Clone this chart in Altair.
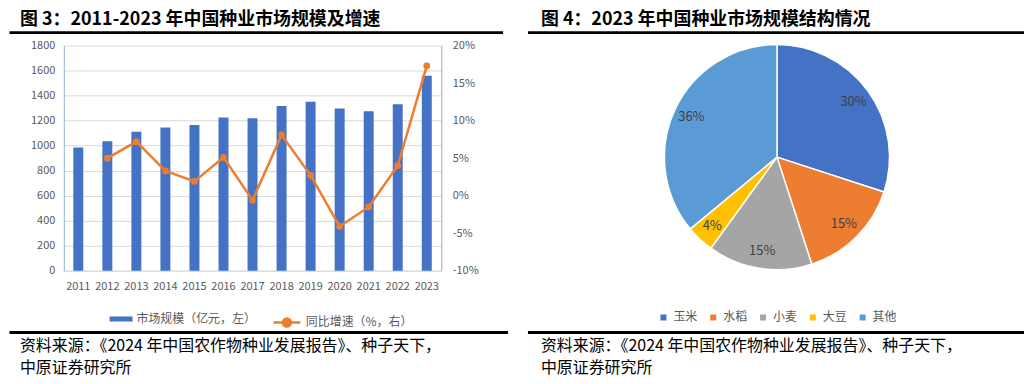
import altair as alt
import pandas as pd

# ---------------- data ----------------
years = ["2011", "2012", "2013", "2014", "2015", "2016", "2017",
         "2018", "2019", "2020", "2021", "2022", "2023"]
market_size = [985, 1035, 1110, 1144, 1165, 1224, 1218, 1317, 1351, 1296, 1274, 1330, 1558]
growth_pct = [None, 5.0, 7.2, 3.3, 1.9, 5.1, -0.6, 8.1, 2.7, -4.1, -1.5, 4.0, 17.3]
series_names = ["市场规模（亿元，左）", "同比增速（%，右）"]

crops = ["玉米", "水稻", "小麦", "大豆", "其他"]
crop_share = [30, 15, 15, 4, 36]
crop_colors = ["#4472C4", "#ED7D31", "#A5A5A5", "#FFC000", "#5B9BD5"]

left_title = "图 3：2011-2023 年中国种业市场规模及增速"
right_title = "图 4：2023 年中国种业市场规模结构情况"
source_line1 = "资料来源：《2024 年中国农作物种业发展报告》、种子天下，"
source_line2 = "中原证券研究所"

# ---------------- layout helpers ----------------
FONT = "Noto Sans CJK SC"
OX, OY = 64, 45  # absolute position of the left plot origin


def X(a):
    return a - OX


def Y(a):
    return a - OY


one = alt.Data(values=[{}])


def txt(s, x, y, size, bold=False, color="black"):
    return alt.Chart(one).mark_text(
        text=s, align="left", baseline="middle", fontSize=size,
        fontWeight="bold" if bold else "normal", font=FONT, color=color
    ).encode(x=alt.value(X(x)), y=alt.value(Y(y)))


def rule(x1, x2, y):
    return alt.Chart(one).mark_rule(color="black", strokeWidth=3).encode(
        x=alt.value(X(x1)), x2=alt.value(X(x2)), y=alt.value(Y(y))
    )


# ---------------- left chart ----------------
df = pd.DataFrame({
    "年份": years,
    "市场规模": market_size,
    "同比增速": growth_pct,
    "s1": series_names[0],
    "s2": series_names[1],
})

x_enc = alt.X(
    "年份:N", sort=years,
    scale=alt.Scale(paddingInner=0, paddingOuter=0),
    axis=alt.Axis(title=None, labelAngle=0, ticks=False, domainColor="#D9D9D9",
                  labelColor="#595959", labelFontSize=11, labelPadding=10,
                  labelFont=FONT),
)

bars = alt.Chart(df).mark_bar(size=10).encode(
    x=x_enc,
    y=alt.Y("市场规模:Q", scale=alt.Scale(domain=[0, 1800]),
            axis=alt.Axis(title=None, values=list(range(0, 1801, 200)), format="d",
                          ticks=False, domainColor="#8FAADC", gridColor="#D9D9D9",
                          labelColor="#595959", labelFontSize=11, labelPadding=9,
                          labelFont=FONT)),
    fill=alt.Fill("s1:N", scale=alt.Scale(domain=[series_names[0]], range=["#4472C4"]),
                  legend=alt.Legend(title=None, orient="none", legendX=46, legendY=263,
                                    symbolType="M-1,-0.22H1V0.22H-1Z", symbolSize=529,
                                    symbolStrokeWidth=0, labelFontSize=12,
                                    labelColor="#595959", labelFont=FONT, padding=0)),
)

growth_scale = alt.Scale(domain=[-10, 20])

line = alt.Chart(df).mark_line(strokeWidth=2.5).encode(
    x=alt.X("年份:N", sort=years),
    y=alt.Y("同比增速:Q", scale=growth_scale,
            axis=alt.Axis(title=None, orient="right", values=[-10, -5, 0, 5, 10, 15, 20],
                          labelExpr="datum.value + '%'", grid=False, ticks=False,
                          domainColor="#8FAADC", labelColor="#595959", labelFontSize=11,
                          labelPadding=11, labelFont=FONT)),
    stroke=alt.Stroke("s2:N", scale=alt.Scale(domain=[series_names[1]], range=["#ED7D31"]),
                      legend=alt.Legend(title=None, orient="none", legendX=209, legendY=263,
                                        symbolType="M-1,0H1M0.3,0A0.3,0.3,0,1,1,-0.3,0A0.3,0.3,0,1,1,0.3,0",
                                        symbolSize=729, symbolStrokeWidth=2.5,
                                        symbolFillColor="#ED7D31", labelFontSize=12,
                                        labelColor="#595959", labelFont=FONT, padding=0)),
)

points = alt.Chart(df).mark_circle(size=45, color="#ED7D31", opacity=1).encode(
    x=alt.X("年份:N", sort=years),
    y=alt.Y("同比增速:Q", scale=growth_scale, axis=None),
)

# ---------------- right chart (pie) ----------------
pie_df = pd.DataFrame({"作物": crops, "占比": crop_share, "序": list(range(len(crops)))})
CX, CY, R = 780, 157, 113

arc = alt.Chart(pie_df).mark_arc(outerRadius=R, stroke="white", strokeWidth=1.5).encode(
    theta=alt.Theta("占比:Q", stack=True),
    order=alt.Order("序:Q"),
    color=alt.Color("作物:N", sort=crops,
                    scale=alt.Scale(domain=crops, range=crop_colors),
                    legend=alt.Legend(title=None, orient="none", direction="horizontal",
                                      legendX=X(660), legendY=Y(319) - 7,
                                      symbolType="square", symbolSize=36,
                                      symbolStrokeWidth=0, columnPadding=9,
                                      labelFontSize=12, labelColor="#595959",
                                      labelFont=FONT, padding=0)),
    x=alt.value(X(CX)),
    y=alt.value(Y(CY)),
)

pie_text = alt.Chart(pie_df).transform_calculate(
    lbl="datum['占比'] + '%'"
).mark_text(radius=95, fontSize=13, color="#404040", font=FONT).encode(
    theta=alt.Theta("占比:Q", stack=True),
    order=alt.Order("序:Q"),
    text=alt.Text("lbl:N"),
    x=alt.value(X(CX)),
    y=alt.value(Y(CY)),
)

# ---------------- titles, rules, sources ----------------
decor = [
    txt(left_title, 20, 19, 18, bold=True),
    txt(right_title, 543, 19, 18, bold=True),
    rule(9.5, 505, 32),
    rule(530, 1028, 32),
    rule(9.5, 510, 333),
    rule(530, 1028, 333),
    txt(source_line1, 20, 347, 16),
    txt(source_line2, 20, 369, 16),
    txt(source_line1, 543, 347, 16),
    txt(source_line2, 543, 369, 16),
]

chart = alt.layer(bars, line, points, arc, pie_text, *decor).resolve_scale(
    y="independent"
).properties(
    width=379, height=226, padding={"left": 0, "top": 2, "right": 0, "bottom": 0},
    background="white"
).configure_view(stroke=None)

chart.save("out.html", embed_options={"renderer": "svg", "actions": False})
